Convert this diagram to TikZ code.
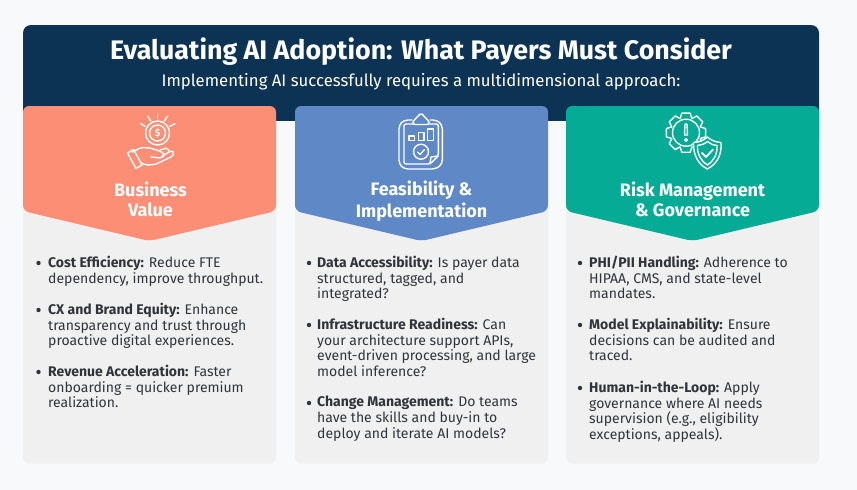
\documentclass[tikz,border=0pt]{standalone}
\usepackage{fontspec}
\setmainfont{Fira Sans}
\definecolor{pagebg}{HTML}{F8F9FB}
\definecolor{navy}{HTML}{0D3354}
\definecolor{coral}{HTML}{FB8E75}
\definecolor{bluehead}{HTML}{5E88C6}
\definecolor{tealhead}{HTML}{05AB94}
\definecolor{cardbg}{HTML}{F0F0F0}
\definecolor{bodytext}{HTML}{30343A}
\newcommand{\headshape}[2]{%
  \fill[#2, rounded corners=6] (#1,106) -- (#1+253,106) -- (#1+253,211) -- (#1+126.5,241) -- (#1,211) -- cycle;}
\newcommand{\cardbody}[1]{%
  \fill[cardbg, rounded corners=6] (#1,190) rectangle (#1+253,463.5);}
\begin{document}
\begin{tikzpicture}[x=1pt, y=-1pt,
    head/.style = {text=white, font=\bfseries\fontsize{18}{20}\selectfont, align=center},
    item/.style = {text=bodytext, anchor=north west, align=left, inner sep=0pt, font=\fontsize{14}{15.6}\selectfont},
    dot/.style = {circle, fill=bodytext, inner sep=0pt, minimum size=4.4pt},
    icon/.style = {draw=white, line width=1.4pt, line cap=round, line join=round}]
    \useasboundingbox (0,0) rectangle (857,490);
    \fill[pagebg] (0,0) rectangle (857,490);

    % banner
    \fill[navy, rounded corners=8] (23,25) rectangle (819,150);
    \fill[pagebg] (23,121) rectangle (819,152);
    \node[text=white, font=\bfseries\fontsize{26.8}{30}\selectfont] (title) at (421,52) {Evaluating AI Adoption: What Payers Must Consider};
    \node[text=white, font=\fontsize{16.75}{20}\selectfont] (subtitle) at (421,82) {Implementing AI successfully requires a multidimensional approach:};

    % cards
    \cardbody{23}
    \cardbody{295}
    \cardbody{566}
    \headshape{23}{coral}
    \headshape{295}{bluehead}
    \headshape{566}{tealhead}

    \node[head] (value) at (150.5,202) {Business\strut\\Value\strut};
    \node[head] (feasibility) at (421.5,202) {Feasibility \&\strut\\Implementation\strut};
    \node[head] (risk) at (692.5,202) {Risk Management\strut\\\& Governance\strut};

    % coin and hand
    \draw[icon] (157.5,133) circle (12);
    \draw[icon] (157.5,133) circle (8);
    \node[text=white, font=\bfseries\fontsize{10}{10}\selectfont, inner sep=0pt] (dollar) at (157.5,133) {\$};
    \draw[icon] (157.3,114) -- (157.3,119);
    \draw[icon] (147.7,116) -- (150.7,121);
    \draw[icon] (167.7,116) -- (164.3,121);
    \draw[icon] (140.7,123.7) -- (145.3,126.3);
    \draw[icon] (175,123.7) -- (169.7,126.3);
    \draw[icon] (127.5,153) -- (133.5,149.5) -- (142,165) -- (136,168.5) -- cycle;
    \draw[icon, rounded corners=1.5] (132.5,152) -- (141,147.5) -- (150,148) -- (161,151.5) -- (165,155) -- (161,158) -- (151,157);
    \draw[icon, rounded corners=1.5] (162,156) -- (172,150.5) -- (174,153) -- (172,156.5) -- (155,164.5) -- (146,165) -- (140.5,162.5);
    \draw[icon, rounded corners=1] (160,150) -- (167,148) -- (169,151);

    % clipboard
    \draw[icon, rounded corners=4] (412,120) -- (404,120) -- (399,125) -- (399,164) -- (404,169) -- (436,169) -- (442.3,164) -- (442.3,125) -- (437,120) -- (430,120);
    \draw[icon, rounded corners=2] (414,124) -- (404,124) -- (404,164) -- (430,164) -- (438.3,156) -- (438.3,124) -- (428,124);
    \draw[icon, rounded corners=2] (413,124.5) -- (413,120) -- (417,118.5) -- (418,115) -- (421,113.5) -- (424,115) -- (425,118.5) -- (429,120) -- (429,124.5) -- cycle;
    \draw[icon] (409,136) rectangle (414.3,140.7);
    \draw[icon] (418.3,132.3) rectangle (424,140.7);
    \draw[icon] (427.7,129) rectangle (433.3,140.7);
    \draw[icon] (421,151.7) circle (7.5);
    \draw[icon] (417.5,152) -- (420,154.5) -- (424.5,149.5);
    \draw[icon] (430,164) -- (431,157) -- (438.3,156);

    % gear and shield
    \foreach \a in {0,45,...,315} {
      \draw[icon] ([shift={(686,132.7)}] \a-22:15.5) -- ([shift={(686,132.7)}] \a-12:20) -- ([shift={(686,132.7)}] \a+12:20) -- ([shift={(686,132.7)}] \a+22:15.5);
    }
    \draw[icon] (686,132.7) circle (13.5);
    \draw[icon] (685,124) -- (687,124) -- (687.5,135) -- (684.5,135) -- cycle;
    \draw[icon] (686,140) circle (1.3);
    \draw[icon, fill=tealhead] (707.3,137) .. controls (712,141) and (716,142) .. (721,142.5) .. controls (722,155) and (717,164) .. (707.3,169) .. controls (698,164) and (693,155) .. (693.5,142.5) .. controls (699,142) and (703,141) .. (707.3,137) -- cycle;
    \draw[icon] (707.3,141.5) .. controls (710,144) and (713,145) .. (717,145.5) .. controls (717.5,154) and (714,161) .. (707.3,165) .. controls (701,161) and (697,154) .. (697.5,145.5) .. controls (701,145) and (705,144) .. (707.3,141.5) -- cycle;
    \draw[icon, line width=1.8pt] (702,153) -- (706,157) -- (713,149.5);

    % first column
    \node[dot] (b1) at (38.5,263) {};
    \node[item] (cost) at (48,256) {\textbf{Cost Efficiency:} Reduce FTE\\dependency, improve throughput.};
    \node[dot] (b2) at (38.5,310) {};
    \node[item] (brand) at (48,303) {\textbf{CX and Brand Equity:} Enhance\\transparency and trust through\\proactive digital experiences.};
    \node[dot] (b3) at (38.5,372) {};
    \node[item] (revenue) at (48,365) {\textbf{Revenue Acceleration:} Faster\\onboarding = quicker premium\\realization.};

    % second column
    \node[dot] (b4) at (309,263) {};
    \node[item] (data) at (317,256) {\textbf{Data Accessibility:} Is payer data\\structured, tagged, and\\integrated?};
    \node[dot] (b5) at (309,325) {};
    \node[item] (infra) at (317,318) {\textbf{Infrastructure Readiness:} Can\\your architecture support APIs,\\event-driven processing, and large\\model inference?};
    \node[dot] (b6) at (309,403) {};
    \node[item] (change) at (317,396) {\textbf{Change Management:} Do teams\\have the skills and buy-in to\\deploy and iterate AI models?};

    % third column
    \node[dot] (b7) at (580,263) {};
    \node[item] (phi) at (589,256) {\textbf{PHI/PII Handling:} Adherence to\\HIPAA, CMS, and state-level\\mandates.};
    \node[dot] (b8) at (580,325) {};
    \node[item] (model) at (589,318) {\textbf{Model Explainability:} Ensure\\decisions can be audited and\\traced.};
    \node[dot] (b9) at (580,388) {};
    \node[item] (human) at (589,381) {\textbf{Human-in-the-Loop:} Apply\\governance where AI needs\\supervision (e.g., eligibility\\exceptions, appeals).};
\end{tikzpicture}
\end{document}
